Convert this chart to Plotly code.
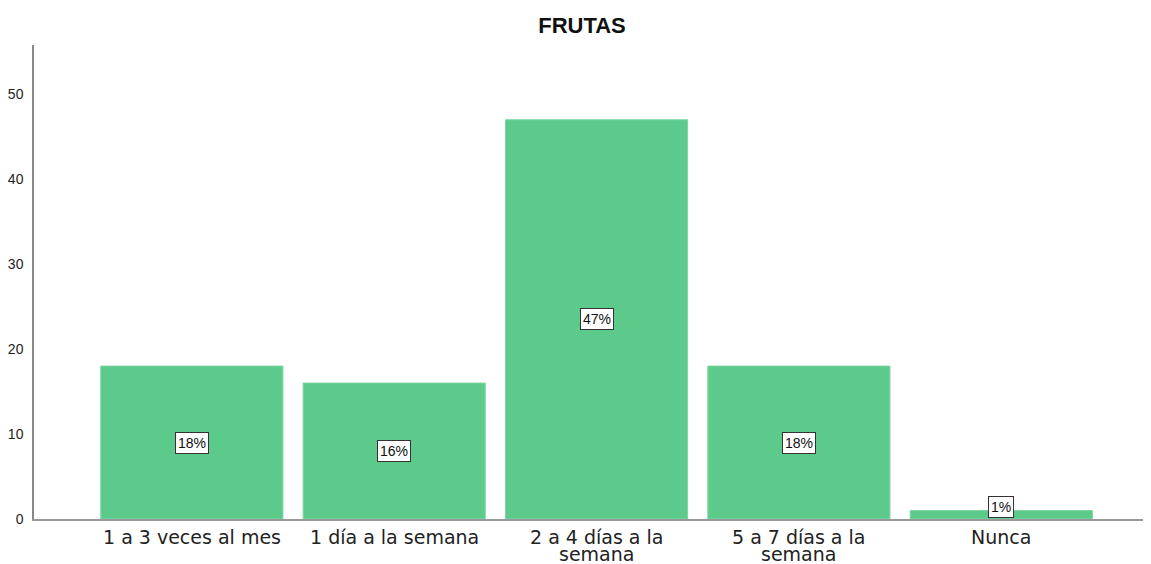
import plotly.graph_objects as go

categorias = ["1 a 3 veces al mes", "1 día a la semana", "2 a 4 días a la<br>semana",
              "5 a 7 días a la<br>semana", "Nunca"]
conteos = [18, 16, 47, 18, 1]
porcentajes = ["18%", "16%", "47%", "18%", "1%"]

# la página tiene 8px de margen en body: la figura se reduce para caber en la ventana
W, H = 1143, 556

fig = go.Figure(go.Bar(
    x=list(range(len(categorias))), y=conteos,
    marker=dict(color="#5cca8b", line=dict(color="#7bd6a2", width=1)),
    hoverinfo="skip",
))

# etiquetas de porcentaje en caja, a media altura
for i, (v, p) in enumerate(zip(conteos, porcentajes)):
    fig.add_annotation(
        x=i, y=v / 2, text=p, showarrow=False,
        font=dict(size=14, family="Liberation Sans", color="#111111"),
        bgcolor="white", bordercolor="#333333", borderwidth=1, borderpad=2,
        yshift=8 if v < 5 else 0,
    )

# etiquetas del eje x, una línea por anotación (interlineado compacto)
for i, cat in enumerate(categorias):
    for j, linea in enumerate(cat.split("<br>")):
        fig.add_annotation(
            x=i, xref="x", y=0, yref="paper", text=linea, showarrow=False,
            yanchor="middle", yshift=-18 - 17 * j,
            font=dict(size=19, family="DejaVu Sans", color="#222222"),
        )

fig.update_layout(
    width=W, height=H,
    title=dict(text="<b>FRUTAS</b>", x=574 / W, xanchor="center",
               y=1 - 17 / H, yanchor="middle",
               font=dict(size=22, family="Liberation Sans", color="#111111")),
    font=dict(family="Liberation Sans", color="#222222"),
    plot_bgcolor="white", paper_bgcolor="white",
    margin=dict(l=26, r=0, t=37, b=45),
    bargap=0.1,
    showlegend=False,
    xaxis=dict(
        range=[-0.78, 4.74], showticklabels=False, showgrid=False, zeroline=False,
        showline=True, linecolor="#999999", linewidth=1.5, ticks="", automargin=False,
    ),
    yaxis=dict(
        range=[0, 55.8], tickvals=[0, 10, 20, 30, 40, 50], showgrid=False,
        zeroline=False, showline=True, linecolor="#888888", linewidth=1.5,
        tickfont=dict(size=14, color="#222222"), ticks="", ticklabelstandoff=6,
        automargin=False,
    ),
)

fig.write_html("out.html")
